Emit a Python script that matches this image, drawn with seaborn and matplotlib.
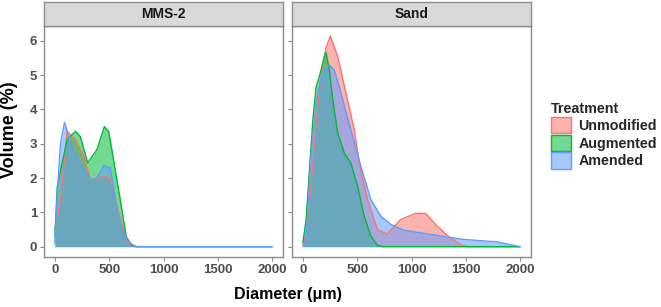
import numpy as np
import pandas as pd
import matplotlib
matplotlib.use("Agg")
import matplotlib.pyplot as plt
import seaborn as sns
from matplotlib.patches import Patch

# 数据：粒径分布 (Diameter μm, Volume %)
samples = ["MMS-2", "Sand"]
treatments = ["Unmodified", "Augmented", "Amended"]
palette = {"Unmodified": "#F8766D", "Augmented": "#00BA38", "Amended": "#619CFF"}

mms_unmod_x = [0, 52, 113, 190, 266, 327, 418, 473, 525, 586, 657, 709, 754, 2000]
mms_unmod_y = [0.5, 1.37, 3.36, 3.12, 2.63, 1.95, 2.0, 2.05, 1.9, 1.0, 0.2, 0.02, 0, 0]
mms_aug_x = [0, 22, 113, 190, 235, 302, 388, 455, 495, 540, 602, 657, 709, 754, 2000]
mms_aug_y = [0.3, 1.76, 3.12, 3.36, 3.21, 2.44, 2.83, 3.5, 3.36, 2.54, 1.37, 0.29, 0.04, 0, 0]
mms_amd_x = [0, 20, 52, 89, 128, 174, 235, 327, 388, 449, 510, 571, 617, 663, 709, 754, 2000]
mms_amd_y = [0.1, 1.4, 3.02, 3.62, 3.21, 2.83, 2.44, 1.95, 2.0, 2.36, 2.3, 1.08, 0.5, 0.21, 0.07, 0, 0]

sand_unmod_x = [0, 30, 76, 122, 168, 213, 253, 321, 397, 473, 519, 595, 687, 775, 901, 1038, 1130,
                1237, 1343, 1450, 1511, 2000]
sand_unmod_y = [0.05, 0.4, 1.8, 3.6, 5.0, 5.8, 6.14, 5.54, 4.47, 3.41, 2.44, 1.37, 0.5, 0.37, 0.79,
                0.97, 0.97, 0.6, 0.29, 0.07, 0, 0]
sand_aug_x = [0, 30, 92, 122, 152, 198, 213, 244, 275, 321, 381, 442, 504, 564, 626, 687, 733, 2000]
sand_aug_y = [0.12, 0.79, 3.7, 4.66, 4.96, 5.54, 5.66, 5.15, 4.28, 3.31, 2.73, 2.44, 1.76, 0.89,
              0.31, 0.04, 0, 0]
sand_amd_x = [0, 30, 76, 122, 168, 213, 244, 290, 351, 442, 534, 626, 717, 809, 928, 1115, 1176,
              1481, 1786, 1939, 2000]
sand_amd_y = [0, 0.21, 2.73, 4.18, 4.96, 5.25, 5.29, 5.15, 4.47, 3.41, 2.34, 1.37, 0.89, 0.65,
              0.48, 0.39, 0.36, 0.21, 0.14, 0.04, 0]

series = {
    ("MMS-2", "Unmodified"): (mms_unmod_x, mms_unmod_y),
    ("MMS-2", "Augmented"): (mms_aug_x, mms_aug_y),
    ("MMS-2", "Amended"): (mms_amd_x, mms_amd_y),
    ("Sand", "Unmodified"): (sand_unmod_x, sand_unmod_y),
    ("Sand", "Augmented"): (sand_aug_x, sand_aug_y),
    ("Sand", "Amended"): (sand_amd_x, sand_amd_y),
}

rows = []
for (s, t), (xs, ys) in series.items():
    for x, y in zip(xs, ys):
        rows.append({"Sample": s, "Treatment": t, "Diameter": x, "Volume": y})
df = pd.DataFrame(rows)

sns.set_theme(style="white")
plt.rcParams['font.family'] = ['Liberation Sans', 'DejaVu Sans']
plt.rcParams['font.weight'] = 'bold'

W, H = 661, 307
g = sns.FacetGrid(df, col="Sample", col_order=samples, sharey=True, height=3.07, aspect=1)
g.figure.set_size_inches(W / 100, H / 100)
g.figure.set_dpi(100)
g.figure.subplots_adjust(left=44 / W, right=531 / W, bottom=1 - 257.3 / H, top=1 - 25.7 / H,
                         wspace=9 / 239)

for ax, s in zip(g.axes.flat, samples):
    for t in treatments:
        sub = df[(df["Sample"] == s) & (df["Treatment"] == t)]
        ax.fill_between(sub["Diameter"], 0, sub["Volume"], color=palette[t], alpha=0.55, lw=0)
        sns.lineplot(data=sub, x="Diameter", y="Volume", color=palette[t], lw=1.0, ax=ax,
                     estimator=None, sort=False)
    ax.set_xlim(-100, 2100)
    ax.set_ylim(-0.31, 6.44)
    ax.set_xticks([0, 500, 1000, 1500, 2000])
    ax.set_yticks(range(7))
    ax.set_xlabel("")
    ax.set_ylabel("")
    ax.set_title("")
    for sp in ax.spines.values():
        sp.set_visible(True)
        sp.set_color("#8C8C8C")
        sp.set_linewidth(1.0)
    ax.tick_params(axis="both", which="both", direction="out", length=3, width=0.8,
                   color="#8C8C8C", labelcolor="#4D4D4D", labelsize=9.5, pad=2,
                   bottom=True, left=True)
    for lab in ax.get_xticklabels() + ax.get_yticklabels():
        lab.set_fontweight("bold")
        lab.set_fontsize(9.5)
    ax.grid(False)
    # strip
    pos = ax.get_position()
    sax = g.figure.add_axes([pos.x0, 1 - 25.7 / H, pos.width, 23.5 / H])
    sax.set_facecolor("#D9D9D9")
    sax.set_xticks([])
    sax.set_yticks([])
    for sp in sax.spines.values():
        sp.set_color("#8C8C8C")
        sp.set_linewidth(1.0)
    sax.text(0.5, 0.5, s, ha="center", va="center", fontsize=10, fontweight="bold",
             color="#1A1A1A", transform=sax.transAxes)

g.axes.flat[1].tick_params(labelleft=False)

fig = g.figure
fig.text(10 / W, 1 - 130 / H, "Volume (%)", rotation=90, ha="center", va="center",
         fontsize=13, fontweight="bold", color="black")
fig.text(287.5 / W, 1 - 295 / H, "Diameter (μm)", ha="center", va="center",
         fontsize=11.5, fontweight="bold", color="black")

handles = [Patch(facecolor=matplotlib.colors.to_rgba(palette[t], 0.55), edgecolor=palette[t],
                 linewidth=1.0, label=t) for t in treatments]
leg = fig.legend(handles=handles, title="Treatment", loc="upper left",
                 bbox_to_anchor=(545 / W, 1 - 96 / H), frameon=False,
                 prop={"weight": "bold", "size": 10.3}, title_fontproperties={"weight": "bold", "size": 10.3},
                 handlelength=1.4, handleheight=1.4, handletextpad=0.55, labelspacing=0.08,
                 alignment="left", borderaxespad=0)

fig.savefig("out.png", dpi=100)
